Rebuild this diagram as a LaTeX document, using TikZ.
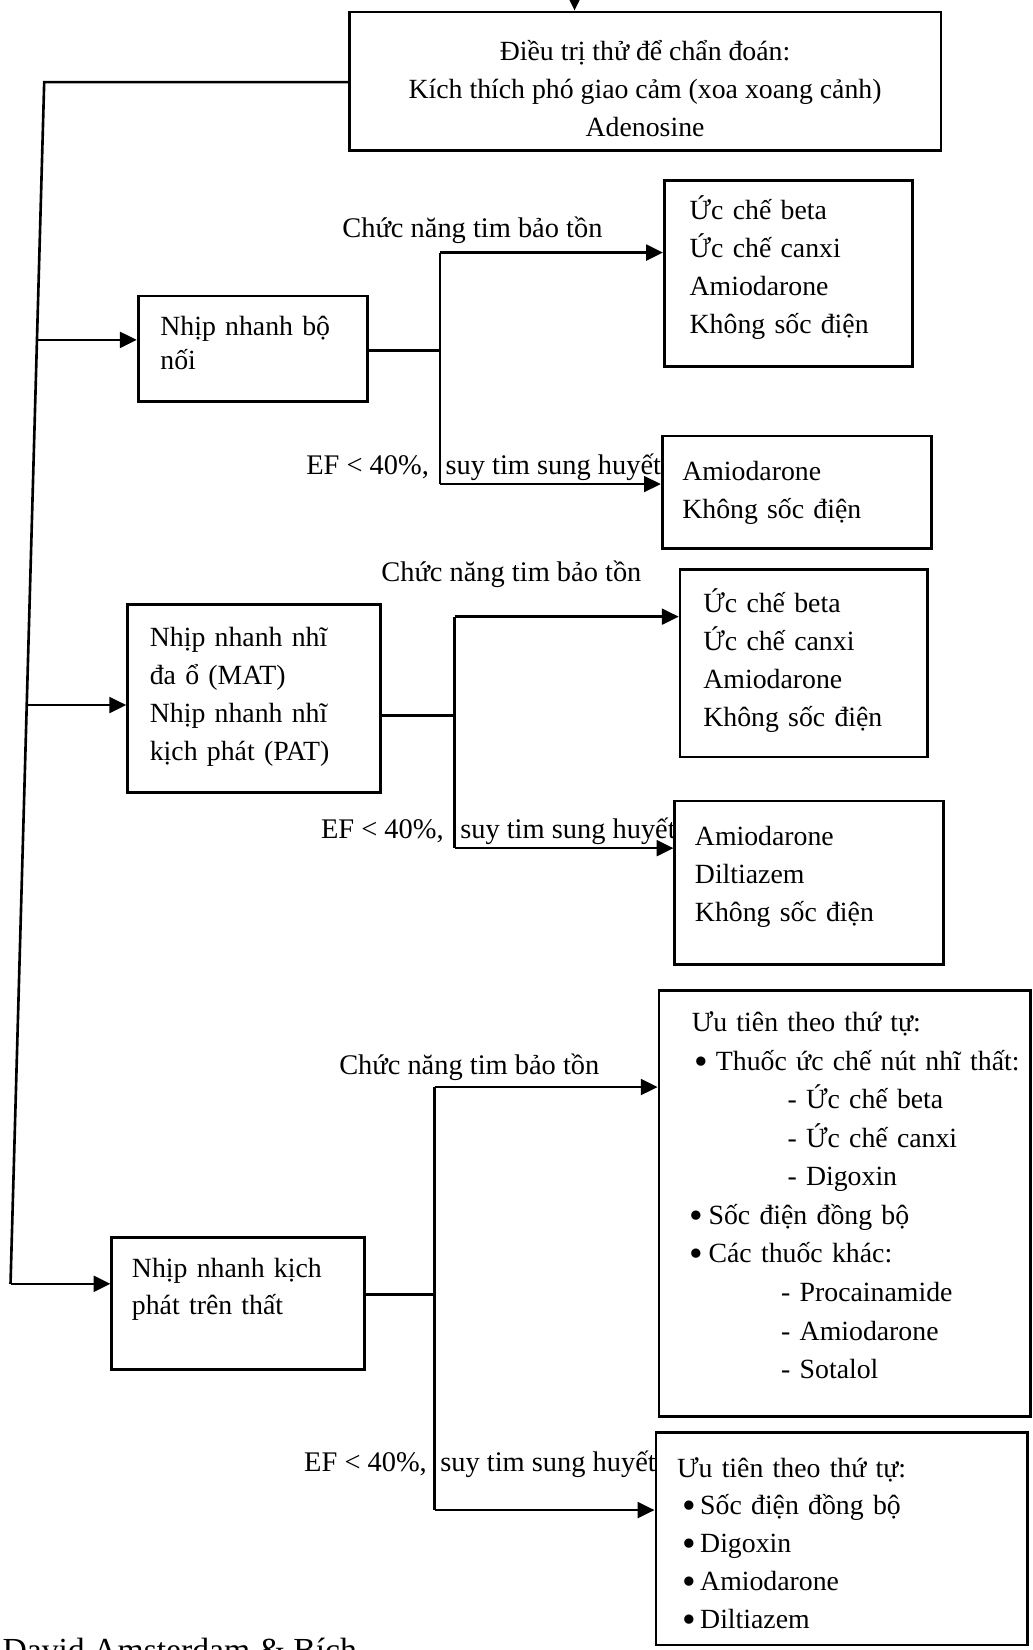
\documentclass[tikz,border=0pt]{standalone}
\usepackage{fontspec}
\setmainfont{Liberation Serif}
\usetikzlibrary{arrows.meta,calc}

% list bullets of three widths
\newcommand{\bigdot}{\raisebox{-1.8pt}{\scalebox{1.4}{•}}}
\newcommand{\bulA}{\makebox[10pt][l]{\bigdot}}
\newcommand{\bulB}{\makebox[9pt][l]{\bigdot}}
\newcommand{\bulC}{\makebox[8.5pt][l]{\bigdot}}

\begin{document}
\begin{tikzpicture}[x=0.5pt,y=-0.5pt,
  every node/.style={font=\fontsize{13.2}{18}\selectfont},
  frame/.style={draw,line width=1.3pt,anchor=north west,inner sep=0pt},
  txt/.style={anchor=west,align=left,inner sep=0pt,text width=170pt},
  lbl/.style={inner sep=0pt,font=\fontsize{13.5}{18}\selectfont},
  link/.style={line width=1.25pt},
  arr/.style={link,-{Triangle[length=8pt,width=7.5pt]}}]

\useasboundingbox (0,0) rectangle (981,1568);
\fill[white] (0,0) rectangle (981,1568);

% ---- box frames ----
\node[frame,minimum width=281pt,minimum height=66pt]   (top) at (331,10) {};
\node[frame,minimum width=109pt,minimum height=50pt]   (b1)  at (130,280) {};
\node[frame,minimum width=118pt,minimum height=88.5pt] (b1a) at (630,170) {};
\node[frame,minimum width=128pt,minimum height=53.5pt] (b1b) at (628,413) {};
\node[frame,minimum width=120pt,minimum height=89.5pt] (b2)  at (120,573) {};
\node[frame,minimum width=117.5pt,minimum height=89pt] (b2a) at (645,540) {};
\node[frame,minimum width=127.5pt,minimum height=77.5pt] (b2b) at (640,760) {};
\node[frame,minimum width=120pt,minimum height=62.5pt] (b3)  at (105,1175) {};
\node[frame,minimum width=176.5pt,minimum height=202.5pt] (b3a) at (625,940) {};
\node[frame,minimum width=176.5pt,minimum height=101pt] (b3b) at (622,1360) {};

% ---- box texts ----
\node[inner sep=0pt,align=center] (topt) at (613,84)
  {Điều trị thử để chẩn đoán:\\Kích thích phó giao cảm (xoa xoang cảnh)\\Adenosine};
\node[txt,font=\fontsize{13.2}{16}\selectfont] (b1t) at (152,326) {Nhịp nhanh bộ\\nối};
\node[txt] (b1at) at (655,254) {Ức chế beta\\Ức chế canxi\\Amiodarone\\Không sốc điện};
\node[txt] (b1bt) at (648,468) {Amiodarone\\Không sốc điện};
\node[txt] (b2t)  at (142,662) {Nhịp nhanh nhĩ\\đa ổ (MAT)\\Nhịp nhanh nhĩ\\kịch phát (PAT)};
\node[txt] (b2at) at (668,628) {Ức chế beta\\Ức chế canxi\\Amiodarone\\Không sốc điện};
\node[txt] (b2bt) at (660,833) {Amiodarone\\Diltiazem\\Không sốc điện};
\node[txt,font=\fontsize{13.2}{17.5}\selectfont] (b3t) at (125,1225) {Nhịp nhanh kịch\\phát trên thất};
\node[txt,font=\fontsize{13.2}{18.3}\selectfont] (b3at) at (657,1136) {Ưu tiên theo thứ tự:\\
    \hspace*{1.5pt}\bulA Thuốc ức chế nút nhĩ thất:\\
    \hspace*{45.5pt}- Ức chế beta\\
    \hspace*{45.5pt}- Ức chế canxi\\
    \hspace*{45.5pt}- Digoxin\\
    \hspace*{-1pt}\bulB Sốc điện đồng bộ\\
    \hspace*{-1pt}\bulB Các thuốc khác:\\
    \hspace*{42.5pt}- Procainamide\\
    \hspace*{42.5pt}- Amiodarone\\
    \hspace*{42.5pt}- Sotalol};
\node[txt] (b3bt) at (643,1468) {Ưu tiên theo thứ tự:\\
    \hspace*{2.5pt}\bulC Sốc điện đồng bộ\\
    \hspace*{2.5pt}\bulC Digoxin\\
    \hspace*{2.5pt}\bulC Amiodarone\\
    \hspace*{2.5pt}\bulC Diltiazem};

% ---- incoming arrow ----
\coordinate (src) at (546,-10);
\draw[arr] (src) -- (src |- top.north);

% ---- left trunk ----
\coordinate (k0) at (42,78);
\coordinate (k1) at (35.1,323);
\coordinate (k2) at (25.4,670);
\coordinate (k3) at (10,1220);
\draw[link] (k0 -| top.west) -- (k0) -- (k3);
\draw[arr] (k1) -- (k1 -| b1.west);
\draw[arr] (k2) -- (k2 -| b2.west);
\draw[arr] (k3) -- (k3 -| b3.west);

% ---- branch 1 ----
\coordinate (m1) at (418,333);
\coordinate (v1t) at (418,240);
\coordinate (v1b) at (418,460);
\draw[link] (m1 -| b1.east) -- (m1);
\draw[link] (v1t) -- (v1b);
\draw[arr] (v1t) -- (v1t -| b1a.west);
\draw[arr] (v1b) -- (v1b -| b1b.west);
\node[lbl,anchor=base west] (l1a) at (325,226) {Chức năng tim bảo tồn};
\node[lbl,anchor=base east] (l1b) at (408,451) {EF < 40\%,};
\node[lbl,anchor=base west] (l1c) at (423,451) {suy tim sung huyết};

% ---- branch 2 ----
\coordinate (m2) at (432,680);
\coordinate (v2t) at (432,586);
\coordinate (v2b) at (432,806);
\draw[link] (m2 -| b2.east) -- (m2);
\draw[link] (v2t) -- (v2b);
\draw[arr] (v2t) -- (v2t -| b2a.west);
\draw[arr] (v2b) -- (v2b -| b2b.west);
\node[lbl,anchor=base west] (l2a) at (362,553) {Chức năng tim bảo tồn};
\node[lbl,anchor=base east] (l2b) at (422,797) {EF < 40\%,};
\node[lbl,anchor=base west] (l2c) at (437,797) {suy tim sung huyết};

% ---- branch 3 ----
\coordinate (m3) at (413,1230);
\coordinate (v3t) at (413,1033);
\coordinate (v3b) at (413,1435);
\draw[link] (m3 -| b3.east) -- (m3);
\draw[link] (v3t) -- (v3b);
\draw[arr] (v3t) -- (v3t -| b3a.west);
\draw[arr] (v3b) -- (v3b -| b3b.west);
\node[lbl,anchor=base west] (l3a) at (322,1021) {Chức năng tim bảo tồn};
\node[lbl,anchor=base east] (l3b) at (406,1398) {EF < 40\%,};
\node[lbl,anchor=base west] (l3c) at (418,1398) {suy tim sung huyết};

% ---- source line, cut by the page edge ----
\node[inner sep=0pt,anchor=base west,font=\fontsize{16}{18}\selectfont] (cap) at (2,1579) {David Amsterdam \& Bích};
\end{tikzpicture}
\end{document}
